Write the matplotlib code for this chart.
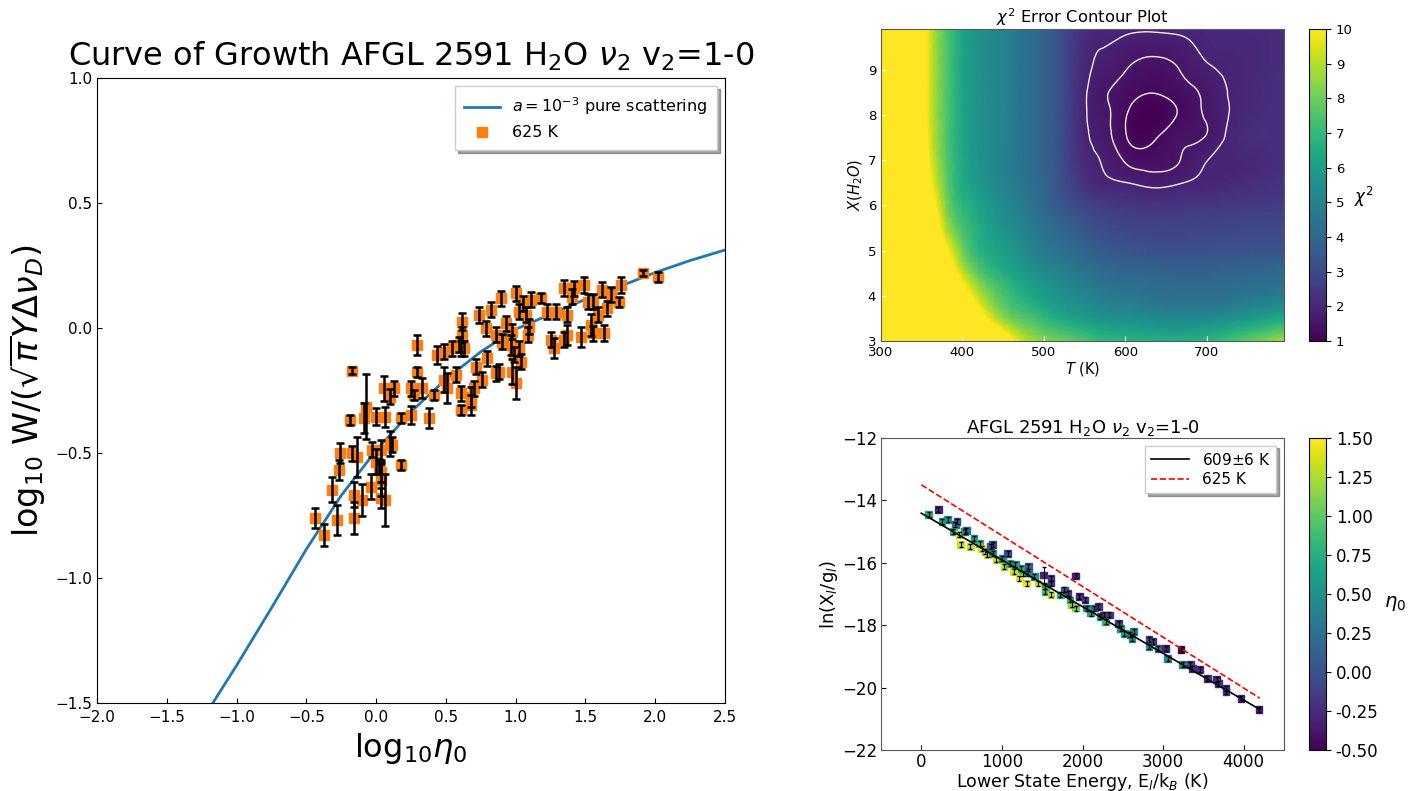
import numpy as np
import matplotlib
matplotlib.use("Agg")
import matplotlib.pyplot as plt
import matplotlib.tri as mtri

# ---------------- data: curve of growth (left) ----------------
curve_x = [-1.17, -1.0, -0.75, -0.5, -0.25, 0.0, 0.25, 0.5, 0.75, 1.0, 1.25, 1.5, 1.75, 2.0, 2.25, 2.5]
curve_y = [-1.5, -1.35, -1.12, -0.885, -0.67, -0.49, -0.335, -0.205, -0.095, -0.005, 0.055, 0.115, 0.167, 0.222, 0.27, 0.312]

cog_x = [-0.172, 0.295, 0.295, -0.076, -0.184, -0.088, -0.004, 0.067, 0.055, 0.127,
         0.103, 0.103, 0.032, 0.175, 0.247, 0.271, 0.331, 0.247, 0.378, 0.414,
         0.438, 0.486, 0.546, 0.594, 0.63, 0.486, 0.51, 0.606, 0.606, 0.678,
         0.714, 0.762, 0.797, 0.857, -0.256, -0.172, -0.136, -0.268, -0.315, -0.435,
         -0.375, -0.28, -0.16, -0.16, -0.1, -0.04, -0.028, -0.004, 0.019, 0.032,
         0.032, 0.067, 0.115, 0.175, 0.032, 1.91, 2.017, 1.755, 1.742, 1.634,
         1.658, 1.622, 1.683, 1.551, 1.587, 1.539, 1.491, 1.419, 1.347, 1.467,
         1.515, 1.371, 1.371, 1.347, 1.275, 1.252, 1.288, 1.228, 1.18, 1.108,
         1.096, 1.072, 1.001, 1.049, 0.977, 0.929, 0.965, 0.989, 1.001, 0.977,
         1.037, 1.025, 0.893, 0.821, 0.737, 0.785, 0.857, 0.905, 0.881, 0.618,
         0.618, 0.606, 0.678, 0.702, 0.57, 1.025, 1.085, 1.551, 1.407]
cog_y = [-0.171, -0.068, -0.175, -0.315, -0.368, -0.36, -0.355, -0.355, -0.241, -0.241,
         -0.275, -0.461, -0.488, -0.361, -0.241, -0.268, -0.241, -0.348, -0.361, -0.268,
         -0.108, -0.095, -0.081, -0.068, -0.081, -0.208, -0.241, -0.261, -0.328, -0.275,
         -0.155, -0.208, -0.121, -0.181, -0.501, -0.501, -0.515, -0.568, -0.648, -0.761,
         -0.828, -0.768, -0.668, -0.761, -0.688, -0.635, -0.488, -0.535, -0.555, -0.608,
         -0.681, -0.688, -0.468, -0.548, -0.575, 0.219, 0.205, 0.172, 0.105, -0.021,
         0.079, 0.152, 0.132, 0.105, 0.052, 0.012, 0.172, 0.159, 0.159, -0.035,
         0.105, 0.052, -0.028, -0.048, -0.081, -0.048, 0.065, 0.065, 0.119, 0.112,
         0.005, 0.052, 0.139, 0.099, -0.015, 0.019, -0.068, -0.108, -0.221, -0.175,
         -0.135, -0.081, 0.119, 0.072, 0.052, -0.001, -0.028, -0.055, -0.175, 0.025,
         -0.028, -0.081, -0.308, -0.241, -0.188, 0.065, -0.028, -0.021, 0.125]
cog_err = [0.015, 0.04, 0.02, 0.13, 0.02, 0.06, 0.035, 0.04, 0.05, 0.03,
           0.03, 0.05, 0.04, 0.02, 0.03, 0.02, 0.04, 0.035, 0.04, 0.02,
           0.035, 0.03, 0.03, 0.03, 0.03, 0.05, 0.06, 0.03, 0.02, 0.04,
           0.03, 0.03, 0.03, 0.03, 0.04, 0.03, 0.08, 0.04, 0.05, 0.04,
           0.045, 0.06, 0.05, 0.065, 0.065, 0.05, 0.03, 0.05, 0.03, 0.065,
           0.04, 0.105, 0.03, 0.02, 0.04, 0.013, 0.02, 0.033, 0.02, 0.033,
           0.03, 0.03, 0.03, 0.03, 0.03, 0.045, 0.033, 0.03, 0.033, 0.04,
           0.03, 0.03, 0.04, 0.03, 0.04, 0.03, 0.03, 0.03, 0.02, 0.03,
           0.03, 0.03, 0.03, 0.03, 0.03, 0.03, 0.04, 0.03, 0.065, 0.05,
           0.03, 0.03, 0.03, 0.03, 0.033, 0.03, 0.03, 0.03, 0.03, 0.033,
           0.03, 0.03, 0.04, 0.03, 0.03, 0.03, 0.03, 0.03, 0.03]

# ---------------- data: chi^2 map (top right) ----------------
T_grid = [300, 345, 360, 380, 400, 440, 480, 520, 550, 570, 600, 635, 670, 700, 730, 795]
X_grid = [3.0, 3.5, 4.0, 4.5, 5.0, 5.5, 6.0, 6.5, 7.0, 7.5, 8.0, 8.5, 9.0, 9.5, 9.9]
chi2_rows = [
    [40, 32, 29, 25, 21, 13, 9.0, 8.1, 7.5, 7.1, 6.9, 6.7, 6.7, 6.9, 7.4, 8.8],
    [33, 23, 20, 17, 14, 9.2, 7.5, 6.5, 6.0, 5.7, 5.5, 5.3, 5.2, 5.3, 5.6, 6.5],
    [30, 20, 17.5, 14, 11.2, 7.9, 6.5, 5.6, 5.1, 4.8, 4.6, 4.4, 4.3, 4.3, 4.4, 4.8],
    [27, 17, 14.5, 11.8, 9.3, 6.9, 5.8, 5.0, 4.5, 4.2, 4.0, 3.9, 3.8, 3.8, 3.9, 4.1],
    [25, 15, 12.8, 10.3, 8.1, 6.3, 5.2, 4.4, 3.9, 3.6, 3.4, 3.25, 3.2, 3.25, 3.3, 3.4],
    [23, 14, 12, 9.0, 7.4, 5.9, 4.9, 4.0, 3.4, 3.1, 2.9, 2.8, 2.8, 2.85, 2.9, 3.0],
    [22, 13, 11, 8.3, 6.9, 5.6, 4.6, 3.5, 2.9, 2.6, 2.45, 2.35, 2.4, 2.45, 2.5, 2.6],
    [22, 12.5, 10.2, 7.9, 6.5, 5.3, 4.4, 3.3, 2.3, 2.0, 1.86, 1.72, 1.84, 1.95, 2.05, 2.3],
    [21, 12.2, 9.8, 7.7, 6.4, 5.2, 4.3, 3.2, 2.1, 1.84, 1.462, 1.35, 1.525, 1.84, 1.94, 2.2],
    [21, 12.0, 9.6, 7.6, 6.3, 5.2, 4.3, 3.2, 1.989, 1.68, 1.23, 1.15, 1.442, 1.529, 1.967, 2.15],
    [21, 12.0, 9.5, 7.6, 6.3, 5.2, 4.3, 3.2, 1.929, 1.614, 1.233, 1.0, 1.269, 1.546, 1.884, 2.15],
    [21, 12.0, 9.5, 7.6, 6.3, 5.2, 4.3, 3.2, 1.945, 1.564, 1.35, 1.21, 1.36, 1.593, 1.89, 2.15],
    [21, 12.0, 9.5, 7.6, 6.3, 5.2, 4.3, 3.2, 2.045, 1.72, 1.511, 1.38, 1.53, 1.78, 1.93, 2.15],
    [21, 12.0, 9.5, 7.6, 6.3, 5.2, 4.3, 3.2, 2.1, 1.861, 1.7, 1.62, 1.72, 1.949, 2.0, 2.15],
    [21, 12.0, 9.5, 7.6, 6.3, 5.2, 4.3, 3.2, 2.2, 2.0, 1.95, 1.9, 1.95, 2.0, 2.05, 2.15],
]
contour_levels = [1.2, 1.5, 1.85]

# ---------------- data: Boltzmann plot (bottom right) ----------------
E_low = [210, 93, 257, 327, 443, 420, 397, 467, 490, 537, 560, 607, 653, 723, 747, 793, 817,
         863, 887, 887, 933, 1003, 1074, 1027, 1097, 1144, 1167, 1237, 1260, 1214, 1330, 1330,
         1307, 1400, 1447, 1517, 1540, 1610, 1610, 1540, 1610, 1727, 1774, 1820, 1844, 1867,
         1914, 1914, 1960, 2030, 2054, 2100, 2147, 2194, 2217, 2264, 2287, 2334, 2450, 2474,
         2520, 2590, 2637, 2614, 2824, 2870, 2824, 2940, 3034, 3057, 3221, 3244, 3337, 3361,
         3454, 3547, 3664, 3687, 3781, 3781, 3967, 4191]
ln_Xg = [-14.28, -14.46, -14.67, -14.62, -14.67, -14.78, -14.99, -15.10, -15.42, -14.99, -14.96,
         -15.48, -15.21, -15.37, -15.53, -15.64, -15.74, -15.48, -15.42, -15.69, -15.90, -15.85,
         -15.69, -16.12, -16.01, -16.28, -16.06, -16.17, -16.33, -16.49, -16.12, -16.33, -16.65,
         -16.44, -16.65, -16.39, -16.76, -16.49, -16.65, -16.92, -17.03, -17.03, -16.87, -16.97,
         -17.19, -17.35, -17.45, -16.42, -17.08, -17.19, -17.45, -17.61, -17.45, -17.40, -17.72,
         -17.67, -17.88, -17.67, -17.94, -18.10, -18.26, -18.31, -18.20, -18.42, -18.47, -18.52,
         -18.68, -18.74, -18.74, -19.06, -18.79, -19.27, -19.27, -19.38, -19.43, -19.70, -19.75,
         -19.86, -20.02, -20.13, -20.34, -20.70]
eta0 = [-0.3, 0.7, 0.6, 0.55, -0.1, 0.15, 0.8, 1.4, 1.35, 0.45, 0.2, 1.3, 0.5, 0.8, 1.4, 1.1, 1.45,
        0.1, -0.05, 0.5, 1.35, 0.5, -0.1, 1.3, 0.8, 1.35, 0.45, 0.7, 0.9, 1.4, 0.05, 0.2,
        1.4, 0.5, 1.35, -0.3, 0.45, -0.2, -0.2, 0.9, 1.3, 0.8, 0.0, -0.15, 0.75, 1.15,
        1.1, -0.35, -0.3, -0.2, 0.5, 0.65, 0.2, -0.2, 0.55, -0.25, 0.8, -0.2, -0.2, 0.55,
        0.7, 0.25, 0.4, 0.5, -0.1, -0.15, 0.5, 0.2, -0.3, 0.45, -0.45, 0.5, -0.15, -0.2,
        -0.25, -0.2, -0.3, -0.25, -0.25, -0.2, -0.3, -0.35]
ln_err = [0.08] * 35 + [0.25] + [0.08] * 46
fit_E = [0, 4200]
fit_ln = [-14.41, -20.70]
ref_E = [0, 4200]
ref_ln = [-13.50, -20.34]

# ---------------- figure ----------------
W, H = 1416, 791
fig = plt.figure(figsize=(W / 100, H / 100), dpi=100)

def box(l, t, r, b):
    return [l / W, 1 - b / H, (r - l) / W, (b - t) / H]

# ---- left: curve of growth ----
ax1 = fig.add_axes(box(97, 78, 725, 703))
ax1.plot(curve_x, curve_y, color='#1f77b4', lw=2, label=r'$a=10^{-3}$ pure scattering', zorder=2)
ax1.plot(cog_x, cog_y, 's', color='#ff7f0e', ms=7, mec='#ff7f0e', label='625 K', zorder=3)
ax1.errorbar(cog_x, cog_y, yerr=cog_err, fmt='none', ecolor='black', elinewidth=1.8,
             capsize=3, capthick=1.8, zorder=4)
ax1.set_xlim(-2.0, 2.5)
ax1.set_ylim(-1.5, 1.0)
ax1.set_xticks(np.arange(-2.0, 2.51, 0.5))
ax1.set_yticks(np.arange(-1.5, 1.01, 0.5))
ax1.tick_params(direction='in', labelsize=11)
ax1.tick_params(axis='x', pad=5)
ax1.set_title('Curve of Growth AFGL 2591 H$_2$O $\\nu_2$ v$_2$=1-0', fontsize=23, pad=9)
ax1.set_xlabel(r'log$_{10}\eta_0$', fontsize=23, labelpad=4)
ax1.set_ylabel(r'log$_{10}$ W/($\sqrt{\pi}Y\Delta\nu_D$)', fontsize=24, labelpad=6)
ax1.legend(loc='upper right', fontsize=11.5, shadow=True, fancybox=False, framealpha=1,
           borderpad=0.6, handlelength=2.2)

# ---- top right: chi^2 map ----
ax2 = fig.add_axes(box(881, 29, 1284, 341))
cax2 = fig.add_axes(box(1309, 29, 1326, 341))
chi2 = np.array(chi2_rows, dtype=float)
Tg, Xg = np.meshgrid(T_grid, X_grid)
nr, nc = chi2.shape
t0, tw, x0, xw = 300.0, 495.0, 3.0, 6.9
tris = []
for i in range(nr - 1):
    for j in range(nc - 1):
        k = i * nc + j
        tris.append([k, k + 1, k + nc + 1])
        tris.append([k, k + nc + 1, k + nc])
tri_n = mtri.Triangulation(((Tg - t0) / tw).ravel(), ((Xg - x0) / xw).ravel(), tris)
refiner = mtri.UniformTriRefiner(tri_n)
tri_c, z_cub = refiner.refine_field(chi2.ravel(), subdiv=4)
tri_pc = mtri.Triangulation(t0 + tri_c.x * tw, x0 + tri_c.y * xw, tri_c.triangles)
mesh = ax2.tripcolor(tri_pc, z_cub, shading='gouraud', cmap='viridis', vmin=1, vmax=10)
ax2.tricontour(tri_pc, z_cub, levels=contour_levels, colors='#f2eef5', linewidths=1.0)
ax2.set_xlim(300, 795)
ax2.set_ylim(3, 9.9)
ax2.set_xticks([300, 400, 500, 600, 700])
ax2.set_yticks([3, 4, 5, 6, 7, 8, 9])
ax2.tick_params(direction='in', labelsize=9.5, color='white')
ax2.set_title(r'$\chi^2$ Error Contour Plot', fontsize=11.8, pad=4)
ax2.set_xlabel(r'$T$ (K)', fontsize=10.5, labelpad=1)
ax2.set_ylabel(r'$X(H_2O)$', fontsize=10.5, labelpad=2)
cb2 = fig.colorbar(mesh, cax=cax2, ticks=range(1, 11))
cb2.ax.tick_params(labelsize=9.5)
cb2.set_label(r'$\chi^2$', rotation=0, fontsize=12, labelpad=8)

# ---- bottom right: Boltzmann plot ----
ax3 = fig.add_axes(box(881, 438, 1284, 750))
cax3 = fig.add_axes(box(1309, 438, 1326, 750))
ax3.errorbar(E_low, ln_Xg, yerr=ln_err, fmt='none', ecolor='black', elinewidth=0.8,
             capsize=1.2, zorder=3)
sc = ax3.scatter(E_low, ln_Xg, c=eta0, cmap='viridis', vmin=-0.5, vmax=1.5, marker='s', s=24,
                 zorder=2)
ax3.plot(fit_E, fit_ln, color='black', lw=1.2, label='609$\\pm$6 K', zorder=4)
ax3.plot(ref_E, ref_ln, color='red', ls='--', lw=1.2, label='625 K', zorder=4)
ax3.set_xlim(-500, 4500)
ax3.set_ylim(-22, -12)
ax3.set_xticks([0, 1000, 2000, 3000, 4000])
ax3.set_yticks([-22, -20, -18, -16, -14, -12])
ax3.tick_params(direction='in', labelsize=12, pad=2.5)
ax3.set_title('AFGL 2591 H$_2$O $\\nu_2$ v$_2$=1-0', fontsize=13, pad=3)
ax3.set_xlabel(r'Lower State Energy, E$_l$/k$_B$ (K)', fontsize=12.5, labelpad=0)
ax3.set_ylabel(r'ln(X$_l$/g$_l$)', fontsize=13, labelpad=2)
ax3.legend(loc='upper right', fontsize=11, shadow=True, fancybox=False, framealpha=1,
           labelspacing=0.3, borderpad=0.4, handlelength=2.5)
cb3 = fig.colorbar(sc, cax=cax3, ticks=[-0.5, -0.25, 0.0, 0.25, 0.5, 0.75, 1.0, 1.25, 1.5],
                   format='%.2f')
cb3.ax.tick_params(labelsize=12)
cb3.set_label(r'$\eta_0$', rotation=0, fontsize=14, labelpad=12)

for a in (ax2, ax3):
    for s in a.spines.values():
        s.set_color('0.35')

fig.savefig('out.png', dpi=100)
